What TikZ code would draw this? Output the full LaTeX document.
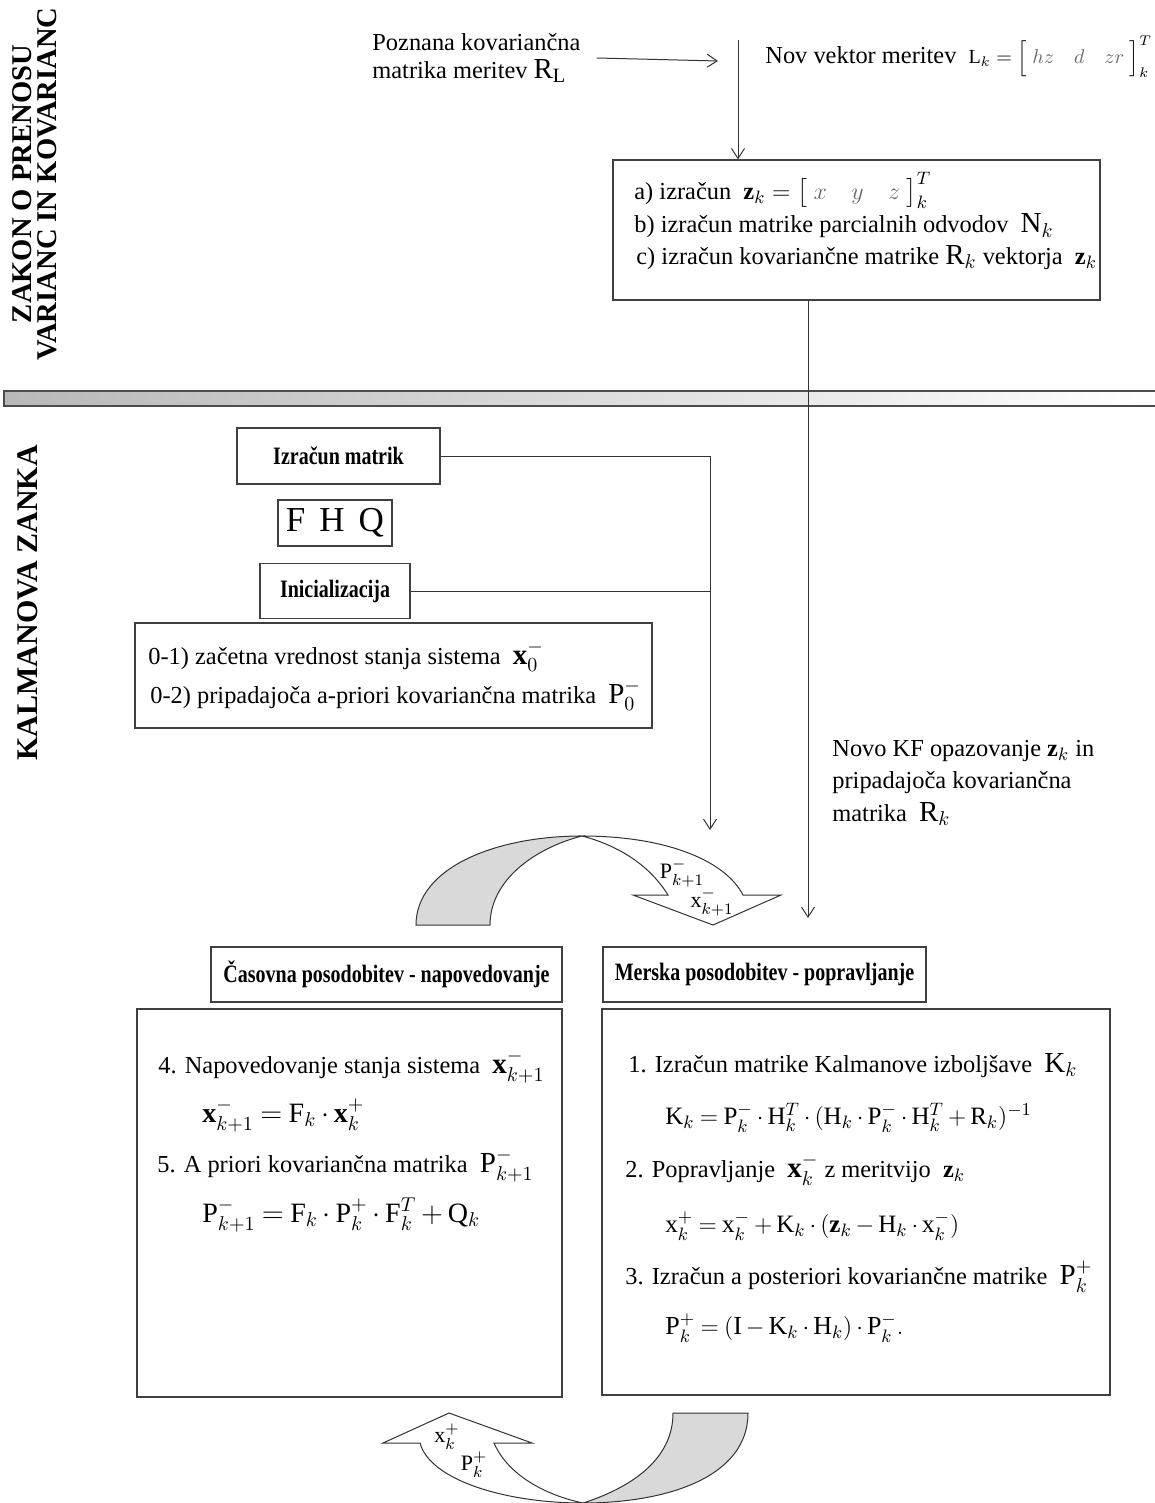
\documentclass[tikz,border=0pt]{standalone}
\usepackage{fontspec}
\setmainfont{Liberation Serif}
\usepackage{amsmath}
\usepackage{graphicx}
\usetikzlibrary{arrows.meta,positioning}

\newcommand{\headtxt}[1]{\scalebox{0.8}[1]{\fontsize{12.5}{14}\selectfont\bfseries #1}}
\newcommand{\mbig}[1]{{\fontsize{14.5}{14}\selectfont$#1$}}

\begin{document}
\begin{tikzpicture}[x=0.5pt, y=-0.5pt,
	>={Straight Barb[length=5pt,width=6.5pt]},
	box/.style={draw=black!75, line width=0.6pt, rectangle, inner sep=0pt},
	conn/.style={draw=black!80, line width=0.5pt},
	txt/.style={inner sep=0pt, align=left, font=\fontsize{12.2}{14}\selectfont},
	frm/.style={txt, font=\fontsize{#1}{14}\selectfont, execute at begin node={\medmuskip=3mu\thickmuskip=4mu}},
	sidelbl/.style={rotate=90, inner sep=0pt, align=center, font=\fontsize{14.3}{12.5}\selectfont\bfseries},
	lbl/.style={inner sep=0pt, font=\fontsize{11}{13}\selectfont},
	band/.style={draw=black!80, line width=0.5pt, fill=black!15},
	front/.style={draw=black!80, line width=0.5pt, fill=white}]
			\useasboundingbox (0,0) rectangle (1155,1503);
			
			% side titles
			\node (zakon) at (35,184) [sidelbl] {ZAKON O PRENOSU\\VARIANC IN KOVARIANC};
			\node (kalman) at (28,761) [sidelbl, anchor=west, font=\fontsize{15}{12}\selectfont\bfseries] {KALMANOVA ZANKA};
			
			% separator bar
			\shade[left color=black!28, right color=white] (4,391) rectangle (1155,406);
			\draw[black!70, line width=0.8pt] (1155,391) -- (4,391) -- (4,406) -- (1155,406);
			
			% upper part
			\node (poznana) at (372,58) [txt, anchor=west] {Poznana kovariančna\\matrika meritev \mbig{\mathrm{R}_{\mathrm{L}}}};
			\node (novvek) at (765,57) [txt, anchor=west] {Nov vektor meritev \ {\fontsize{10}{12}\selectfont$\mathrm{L}_k = \Big[\;{\color{black!60}hz\quad d\quad zr}\;\Big]^T_k$}};
			\coordinate (rlend) at (718,61);
			\coordinate (vtop) at (738,40);
			\node (abc) at (856.5,230) [box, minimum width=243.5pt, minimum height=70pt] {};
			\node (abca) at (634,199) [txt, anchor=base west] {a) izračun \ $\mathbf{z}_k = \big[\;{\color{black!60}x\quad y\quad z}\;\big]^T_k$};
			\node (abcb) at (634,233) [txt, anchor=base west] {b) izračun matrike parcialnih odvodov \ \mbig{\mathrm{N}_k}};
			\node (abcc) at (636,264) [txt, anchor=base west] {c) izračun kovariančne matrike \mbig{\mathrm{R}_k} vektorja \ $\mathbf{z}_k$};
			
			\draw[conn, ->] ([xshift=8pt]poznana.east) -- (rlend);
			\draw[conn, ->] (vtop) -- (vtop |- abc.north);
			
			% left part
			\node (izracun) at (338.5,456) [box, minimum width=101.5pt, minimum height=28pt] {\headtxt{Izračun matrik}};
			\node (fhq) at (335,523) [box, minimum width=57pt, minimum height=23pt, font=\fontsize{17.5}{18}\selectfont] {F\hspace{0.4em}H\hspace{0.4em}Q};
			\node (init) at (335,591) [box, minimum width=75pt, minimum height=27.5pt] {\headtxt{Inicializacija}};
			\node (zacetna) at (393.5,675.5) [box, minimum width=258.5pt, minimum height=52.5pt] {};
			\node (zac1) at (148,664) [txt, anchor=base west] {0-1) začetna vrednost stanja sistema \ \mbig{\mathbf{x}^-_0}};
			\node (zac2) at (150,703) [txt, anchor=base west] {0-2) pripadajoča a-priori kovariančna matrika \ \mbig{\mathrm{P}^-_0}};
			\coordinate (kfin) at (710,830);
			\draw[conn, ->] (izracun.east) -| (kfin);
			\draw[conn] (init.east) -- (init.east -| kfin);
			
			% new observation
			\node (novo) at (832,783) [txt, anchor=west, font=\fontsize{12.2}{16.3}\selectfont] {Novo KF opazovanje $\mathbf{z}_k$ in\\pripadajoča kovariančna\\matrika \ \mbig{\mathrm{R}_k}};
			\coordinate (zdrop) at (808,918);
			\draw[conn, ->] (zdrop |- abc.south) -- (zdrop);
			
			% upper loop arrow
			\filldraw[band] (416,925) .. controls (416,868) and (495,836) .. (582,836) .. controls (535,848) and (490,880) .. (490,925) -- cycle;
			\filldraw[front] (582,836) .. controls (665,836) and (725,860) .. (743,895) -- (781,895) -- (713,925) -- (633,895) -- (668,895) .. controls (650,866) and (620,846) .. (582,836) -- cycle;
			\node (pminus) at (682,873) [lbl] {$\mathrm{P}^-_{k+1}$};
			\node (xminus) at (712,902) [lbl] {$\mathrm{x}^-_{k+1}$};
			
			% lower part
			\node (casovna) at (386.5,974.5) [box, minimum width=175.5pt, minimum height=27.5pt] {\headtxt{Časovna posodobitev - napovedovanje}};
			\node (merska) at (764.5,974.5) [box, minimum width=161.5pt, minimum height=27.5pt] {\headtxt{Merska posodobitev - popravljanje}};
			\node (napoved) at (349.5,1203) [box, minimum width=212.5pt, minimum height=194pt] {};
			\node (poprav) at (856,1202) [box, minimum width=254pt, minimum height=193pt] {};
			
			\node (n4) at (158,1073) [txt, anchor=base west] {4. Napovedovanje stanja sistema \ \mbig{\mathbf{x}^-_{k+1}}};
			\node (n4f) at (202,1122) [frm=14, anchor=base west] {$\mathbf{x}^-_{k+1} = \mathrm{F}_k\cdot\mathbf{x}^+_k$};
			\node (n5) at (157,1172) [txt, anchor=base west] {5. A priori kovariančna matrika \ \mbig{\mathrm{P}^-_{k+1}}};
			\node (n5f) at (202,1222) [frm=14, anchor=base west] {$\mathrm{P}^-_{k+1} = \mathrm{F}_k\cdot\mathrm{P}^+_k\cdot\mathrm{F}^T_k + \mathrm{Q}_k$};
			
			\node (k1) at (628,1072) [txt, anchor=base west] {1. Izračun matrike Kalmanove izboljšave \ \mbig{\mathrm{K}_k}};
			\node (k1f) at (665,1124) [frm=12.5, anchor=base west] {$\mathrm{K}_k = \mathrm{P}^-_k\cdot\mathrm{H}^T_k\cdot(\mathrm{H}_k\cdot\mathrm{P}^-_k\cdot\mathrm{H}^T_k + \mathrm{R}_k)^{-1}$};
			\node (k2) at (625,1177) [txt, anchor=base west] {2. Popravljanje \ \mbig{\mathbf{x}^-_k} z meritvijo \ $\mathbf{z}_k$};
			\node (k2f) at (665,1232) [frm=12.5, anchor=base west] {$\mathrm{x}^+_k = \mathrm{x}^-_k + \mathrm{K}_k\cdot(\mathbf{z}_k - \mathrm{H}_k\cdot\mathrm{x}^-_k)$};
			\node (k3) at (625,1284) [txt, anchor=base west] {3. Izračun a posteriori kovariančne matrike \ \mbig{\mathrm{P}^+_k}};
			\node (k3f) at (665,1334) [frm=13, anchor=base west] {$\mathrm{P}^+_k = (\mathrm{I} - \mathrm{K}_k\cdot\mathrm{H}_k)\cdot\mathrm{P}^-_k.$};
			
			% lower loop arrow
			\filldraw[band] (673,1413) -- (748,1413) .. controls (748,1478) and (665,1503) .. (583,1503) .. controls (630,1488) and (673,1460) .. (673,1413) -- cycle;
			\filldraw[front] (583,1503) .. controls (505,1503) and (430,1480) .. (420,1443) -- (383,1443) -- (449,1413) -- (532,1443) -- (494,1443) .. controls (508,1475) and (545,1495) .. (583,1503) -- cycle;
			\node (xplus) at (447,1437) [lbl] {$\mathrm{x}^+_k$};
			\node (pplus) at (474,1465) [lbl] {$\mathrm{P}^+_k$};
		\end{tikzpicture}
\end{document}
